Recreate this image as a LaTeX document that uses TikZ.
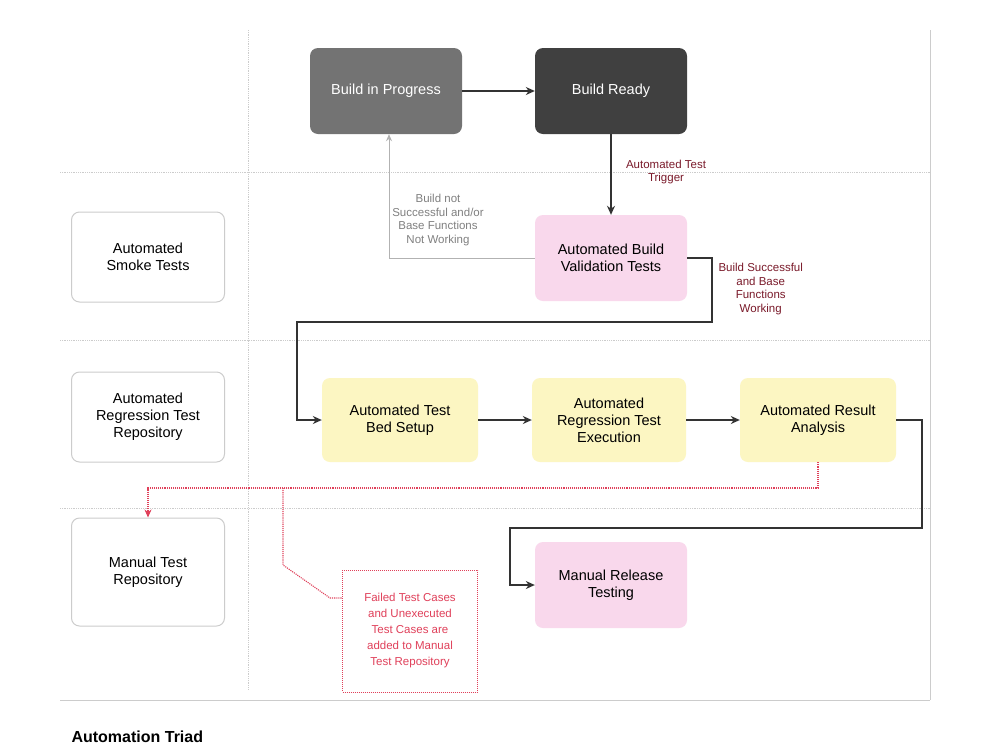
\documentclass[tikz,border=0pt]{standalone}
\usepackage{fontspec}
\setmainfont{Liberation Sans}
\usetikzlibrary{arrows.meta}
\definecolor{pinkf}{HTML}{F9D8EC}
\definecolor{yel}{HTML}{FCF6C2}
\definecolor{dred}{HTML}{7A1A2A}
\definecolor{rd}{HTML}{E0405A}
\tikzset{
 box/.style={rounded corners=8pt,minimum width=#1,align=center,font=\fontsize{14.5}{17}\selectfont},
 lane/.style={gray!40,densely dotted,line width=0.8pt},
 conn/.style={line width=1.3pt,draw=black!80,-{Stealth[length=9pt,width=8pt]}},
 rconn/.style={rd,densely dotted,line width=1.1pt,-{Stealth[length=8pt,width=7pt]}},
 lbl/.style={align=center,font=\fontsize{11.5}{13.5}\selectfont}
}
\begin{document}
\begin{tikzpicture}[x=1pt,y=-1pt]
\useasboundingbox (0,0) rectangle (1000,750);
\fill[white] (0,0) rectangle (1000,750);
% lanes
\draw[lane] (60,172)--(930,172);
\draw[lane] (60,340)--(930,340);
\draw[lane] (60,508)--(930,508);
\draw[lane] (248,30)--(248,690);
\draw[gray!40,line width=0.8pt] (930,30)--(930,700);
\draw[gray!40,line width=0.8pt] (60,700)--(930,700);
% nodes
\node[box=152pt,minimum height=86pt,fill=black!55,text=white] (bip) at (386,91) {Build in Progress};
\node[box=152pt,minimum height=86pt,fill=black!75,text=white] (br) at (611,91) {Build Ready};
\node[box=152pt,minimum height=86pt,fill=pinkf] (abv) at (611,258) {Automated Build\\Validation Tests};
\node[box=156pt,minimum height=84pt,fill=yel] (atb) at (400,420) {Automated Test\\Bed Setup};
\node[box=154pt,minimum height=84pt,fill=yel] (arte) at (609,420) {Automated\\Regression Test\\Execution};
\node[box=156pt,minimum height=84pt,fill=yel] (ara) at (818,420) {Automated Result\\Analysis};
\node[box=152pt,minimum height=86pt,fill=pinkf] (mrt) at (611,585) {Manual Release\\Testing};
\node[box=153pt,minimum height=90pt,draw=gray!40,line width=1pt] (smoke) at (148,257) {Automated\\Smoke Tests};
\node[box=153pt,minimum height=90pt,draw=gray!40,line width=1pt] (reg) at (148,417) {Automated\\Regression Test\\Repository};
\node[box=153pt,minimum height=108pt,draw=gray!40,line width=1pt] (man) at (148,572) {Manual Test\\Repository};
\node[draw=rd,densely dotted,line width=1pt,minimum width=135pt,minimum height=122pt,align=center,text=rd,font=\fontsize{11.5}{16}\selectfont] (call) at (410,631) {Failed Test Cases\\and Unexecuted\\Test Cases are\\added to Manual\\Test Repository};
% connectors
\draw[conn] (bip) -- (br);
\draw[conn] (br) -- (abv);
\node[lbl,text=dred] (trig) at (666,172) {Automated Test\\Trigger};
\draw[line width=1pt,draw=gray!60,-{Stealth[length=7pt,width=6pt]}] (abv.west) -| (bip.south -| 389,0);
\node[lbl,text=gray] (bns) at (438,220) {Build not\\Successful and/or\\Base Functions\\Not Working};
\draw[conn] (abv.east) -- (712,258) -- (712,322) -- (297,322) |- (atb.west);
\node[lbl,text=dred,anchor=west] (bsw) at (715,289) {Build Successful\\and Base\\Functions\\Working};
\draw[conn] (atb) -- (arte);
\draw[conn] (arte) -- (ara);
\draw[conn] (ara.east) -- (922,420) -- (922,528) -- (510,528) |- (mrt.west);
\draw[rconn] (ara.south) -- (818,488) -- (148,488) -- (man.north);
\draw[rd,densely dotted,line width=1.1pt] (283,488) -- (283,565) -- (330,598) -- (call.west |- 0,598);
\node[anchor=west,font=\bfseries\fontsize{16}{18}\selectfont] (title) at (68,737) {Automation Triad};
\end{tikzpicture}
\end{document}
